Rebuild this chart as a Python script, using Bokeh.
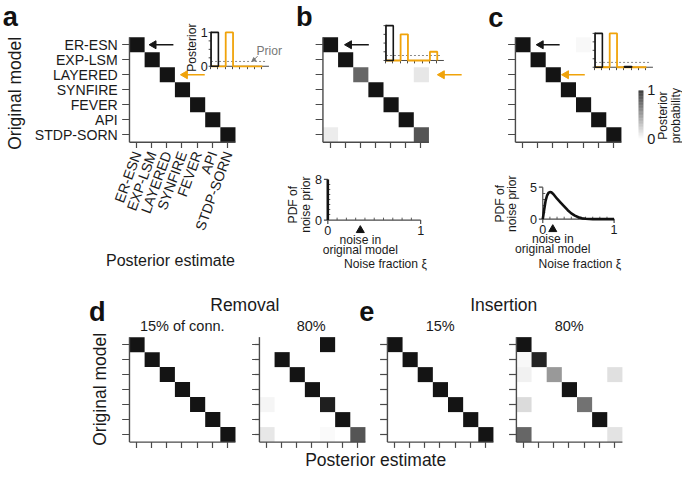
import numpy as np
from bokeh.plotting import figure
from bokeh.models import Range1d, ColumnDataSource
from bokeh.transform import linear_cmap
from bokeh.core.properties import value
from bokeh.embed import file_html
from bokeh.resources import INLINE

# ---------------- data ----------------
models = ["ER-ESN", "EXP-LSM", "LAYERED", "SYNFIRE", "FEVER", "API", "STDP-SORN"]

identity = [[1 if r == c else 0 for c in range(7)] for r in range(7)]
heat_a = identity
heat_b = [
    [1, 0, 0, 0, 0, 0, 0],
    [0, 1, 0, 0, 0, 0, 0],
    [0, 0, 0.65, 0, 0, 0, 0.1],
    [0, 0, 0, 1, 0, 0, 0],
    [0, 0, 0, 0, 1, 0, 0],
    [0, 0, 0, 0, 0, 1, 0],
    [0.08, 0, 0, 0, 0, 0, 0.72]]
heat_c = [
    [1, 0, 0, 0, 0.03, 0, 0],
    [0, 1, 0, 0, 0, 0, 0],
    [0, 0, 1, 0, 0, 0, 0],
    [0, 0, 0, 1, 0, 0, 0],
    [0, 0, 0, 0, 1, 0, 0],
    [0, 0, 0, 0, 0, 1, 0],
    [0, 0, 0, 0, 0, 0, 1]]
heat_d15 = identity
heat_d80 = [
    [0, 0, 0, 0, 1, 0, 0],
    [0, 1, 0, 0, 0, 0, 0],
    [0, 0, 1, 0, 0, 0, 0],
    [0, 0, 0, 1, 0, 0, 0],
    [0.04, 0, 0, 0, 0.95, 0, 0],
    [0, 0, 0, 0, 0, 1, 0],
    [0.1, 0, 0, 0, 0.02, 0, 0.72]]
heat_e15 = identity
heat_e80 = [
    [1, 0, 0, 0, 0, 0, 0],
    [0.03, 0.93, 0, 0, 0, 0, 0],
    [0.06, 0, 0.43, 0, 0, 0, 0.13],
    [0, 0, 0, 1, 0, 0, 0],
    [0.15, 0, 0, 0, 0.6, 0, 0],
    [0, 0, 0, 0, 0, 1, 0],
    [0.65, 0, 0, 0, 0, 0, 0.12]]

# inset posteriors: row ER-ESN (black) and row LAYERED (orange)
inset_a_er = [1, 0, 0, 0, 0, 0, 0]
inset_a_lay = [0, 0, 1, 0, 0, 0, 0]
inset_b_er = [1, 0, 0, 0, 0, 0, 0]
inset_b_lay = [0, 0, 0.75, 0, 0, 0, 0.25]
inset_c_er = [1, 0, 0, 0, 0.02, 0, 0]
inset_c_lay = [0, 0, 1, 0, 0, 0, 0]
prior = 1 / 7

# noise prior PDFs
noise_b_xi = [0, 0]
noise_b_pdf = [0, 8]
noise_c_xi = [0, 0.02, 0.04, 0.06, 0.08, 0.1, 0.12, 0.15, 0.2, 0.25, 0.3, 0.35,
              0.4, 0.45, 0.5, 0.55, 0.6, 0.65, 0.7, 0.8, 0.9, 1.0]
noise_c_pdf = [0, 1.5, 2.9, 3.7, 4.1, 4.25, 4.2, 3.9, 3.2, 2.6, 2.0, 1.4,
               0.9, 0.55, 0.3, 0.12, 0.05, 0.01, 0, 0, 0, 0]
orig_noise_b = 0.35
orig_noise_c = 0.14

# ---------------- styling ----------------
FONT = value("Liberation Sans")
FS = 0.97
AX = "#4a4a4a"
ORANGE = "#f0a30a"
DARK = "#161616"
GRAY = ["#%02x%02x%02x" % (g, g, g) for g in np.linspace(255, 20, 256).astype(int)]
CELL = 15.5

p = figure(width=682, height=474, x_range=Range1d(0, 698), y_range=Range1d(490, 0),
           x_axis_type=None, y_axis_type=None, output_backend="svg",
           toolbar_location=None, min_border=0, outline_line_color=None)
p.background_fill_color = "white"
p.border_fill_color = "white"


def txt(target, x, y, s, size, align="center", baseline="middle", angle=0.0,
        color="#1a1a1a", bold=False):
    target.text(x=x, y=y, text=s, text_font=FONT,
                text_font_size="%.1fpx" % (size * FS), text_align=align,
                text_baseline=baseline, angle=angle, text_color=color,
                text_font_style="bold" if bold else "normal")


def subplot(xs, ys, xt, yt):
    return p.subplot(x_source=Range1d(*xs), y_source=Range1d(*ys),
                     x_target=Range1d(*xt), y_target=Range1d(*yt))


def heatmap(x0, y0, mat, labels=False):
    n = len(models)
    s = subplot((-0.5, n - 0.5), (-0.5, n - 0.5), (x0, x0 + CELL * n), (y0, y0 + CELL * n))
    m = np.array(mat, float)
    r, c = np.nonzero(m)
    src = ColumnDataSource(dict(l=c - 0.5, rr=c + 0.5, t=r - 0.5, b=r + 0.5, v=m[r, c]))
    s.quad(left="l", right="rr", top="t", bottom="b", source=src,
           fill_color=linear_cmap("v", GRAY, 0, 1), line_color=None)
    idx = np.arange(n)
    tl = 7.5 / CELL
    s.segment(x0=[-0.5, -0.5], y0=[-0.5, n - 0.5], x1=[-0.5, n - 0.5], y1=[n - 0.5, n - 0.5],
              line_color=AX, line_width=1.4)
    s.segment(x0=-0.5, y0=idx, x1=-0.5 - tl, y1=idx, line_color=AX, line_width=1.2)
    s.segment(x0=idx, y0=n - 0.5, x1=idx, y1=n - 0.5 + 6 / CELL, line_color=AX, line_width=1.2)
    if labels:
        txt(s, [-0.5 - 12 / CELL] * n, list(idx), models, 14.5, align="right")
        txt(s, list(idx), [n - 0.5 + 10 / CELL] * n, models, 14.5, align="right",
            angle=np.deg2rad(70))
    return s


def hm_arrow(s, row, head, tail, color):
    s.segment(x0=[head + 0.25], y0=[row], x1=[tail], y1=[row], line_color=color, line_width=1.6)
    s.scatter(x=[head + 0.25], y=[row], marker="triangle", size=8, angle=np.pi / 2,
              fill_color=color, line_color=color)


def step_xy(vals):
    xs, ys = [0], [0]
    for i, v in enumerate(vals):
        xs += [i, i + 1]
        ys += [v, v]
    xs.append(len(vals))
    ys.append(0)
    return xs, ys


def inset(x0, ybase, ytop, er, lay, labels=False):
    s = subplot((0, 8), (0, 1), (x0, x0 + 60), (ybase, ytop))
    kx = 7.5
    ky = ybase - ytop
    s.segment(x0=[0, 0], y0=[0, 0], x1=[0, 7.9], y1=[1.03, 0], line_color=AX, line_width=1)
    xt = np.arange(8)
    s.segment(x0=xt, y0=0, x1=xt, y1=-3 / ky, line_color=AX, line_width=1)
    yt = [0, 0.25, 0.5, 0.75, 1]
    s.segment(x0=0, y0=yt, x1=-2.5 / kx, y1=yt, line_color=AX, line_width=1)
    s.line(x=[0, 7.6], y=[prior, prior], line_color="#8a8a8a", line_dash="2 2", line_width=1)
    sx, sy = step_xy(lay)
    s.line(x=sx, y=sy, line_color=ORANGE, line_width=1.8)
    v = np.array(er, float)
    k = np.nonzero(v)[0]
    s.vbar(x=k + 0.5, top=v[k], bottom=0, width=1, fill_color=None, line_color=DARK,
           line_width=1.6)
    if labels:
        txt(s, [-3.5 / kx, -3.5 / kx], [0, 1], ["0", "1"], 13, align="right")
        txt(s, [-19 / kx], [0.55], ["Posterior"], 12.5, angle=np.pi / 2)
        txt(s, [6.2], [0.45], ["Prior"], 12.5, align="left", color="#777777")
        s.segment(x0=[6.35], y0=[0.3], x1=[5.9], y1=[0.2], line_color="#777777", line_width=1)
        s.scatter(x=[5.85], y=[0.19], marker="triangle", size=4, angle=2.2,
                  fill_color="#777777", line_color="#777777")
    return s


def pdf_panel(xt, yt, ytop, cx, cy, toplab, arrow_xi):
    s = subplot((0, 1), (0, ytop), xt, yt)
    kx = xt[1] - xt[0]
    ky = (yt[0] - yt[1]) / ytop
    s.segment(x0=[0, 0], y0=[0, 0], x1=[1, 0], y1=[0, ytop], line_color=AX, line_width=1.2)
    xm = np.arange(1, 10) / 10
    s.segment(x0=xm, y0=0, x1=xm, y1=2.5 / ky, line_color=AX, line_width=0.9)
    s.segment(x0=[0, 1], y0=[0, 0], x1=[0, 1], y1=[-4 / ky] * 2, line_color=AX, line_width=1.2)
    s.segment(x0=0, y0=[0, ytop], x1=-4 / kx, y1=[0, ytop], line_color=AX, line_width=1.2)
    ym = np.arange(1, ytop)
    s.segment(x0=0, y0=ym, x1=2.5 / kx, y1=ym, line_color=AX, line_width=0.9)
    s.line(x=cx, y=cy, line_color="#111111", line_width=2.6)
    txt(s, [-6 / kx] * 2, [0, ytop], ["0", toplab], 13, align="right")
    txt(s, [0, 1], [-11 / ky] * 2, ["0", "1"], 13)
    s.scatter(x=[arrow_xi], y=[-10.5 / ky], marker="triangle", size=8,
              fill_color="#111111", line_color="#111111")
    txt(s, [arrow_xi] * 2, [-20.5 / ky, -31 / ky], ["noise in", "original model"], 12.5)
    return s


# ---------------- panel a ----------------
sa = heatmap(132, 38, heat_a, labels=True)
hm_arrow(sa, 0, 0.85, 2.4, DARK)
hm_arrow(sa, 2, 2.92, 4.47, ORANGE)
inset(215.5, 68, 33, inset_a_er, inset_a_lay, labels=True)
txt(p, [10], [17], ["a"], 28, bold=True, color="#111111")
txt(p, [15], [96], ["Original model"], 18, angle=np.pi / 2)
txt(p, [174], [269], ["Posterior estimate"], 16.5)

# ---------------- panel b ----------------
sb = heatmap(330, 38, heat_b)
hm_arrow(sb, 0, 0.98, 2.53, DARK)
hm_arrow(sb, 2, 7.11, 8.66, ORANGE)
inset(394.5, 62, 26, inset_b_er, inset_b_lay)
txt(p, [311], [17], ["b"], 28, bold=True, color="#111111")
pdf_panel((335, 430), (227, 185), 8, noise_b_xi, noise_b_pdf, "8", orig_noise_b)
txt(p, [299, 313], [211, 211], ["PDF of", "noise prior"], 12.5, angle=np.pi / 2)
txt(p, [394], [272], ["Noise fraction \u03be"], 12.5)

# ---------------- panel c ----------------
sc = heatmap(527, 38, heat_c)
hm_arrow(sc, 0, 0.93, 2.42, DARK)
hm_arrow(sc, 2, 2.6, 4.08, ORANGE)
inset(608.5, 69, 34, inset_c_er, inset_c_lay)
txt(p, [507], [18], ["c"], 28, bold=True, color="#111111")
pdf_panel((555, 628), (226, 193), 5, noise_c_xi, noise_c_pdf, "5", orig_noise_c)
txt(p, [511, 524], [210, 210], ["PDF of", "noise prior"], 12.5, angle=np.pi / 2)
txt(p, [593], [272], ["Noise fraction \u03be"], 12.5)

# colour bar
cb = subplot((0, 1), (0, 1), (653, 658), (143, 93))
lv = np.linspace(0, 1, 65)
cbs = ColumnDataSource(dict(b=lv[:-1], t=lv[1:], v=(lv[:-1] + lv[1:]) / 2))
cb.quad(left=0, right=1, bottom="b", top="t", source=cbs,
        fill_color=linear_cmap("v", GRAY, 0, 1), line_color=None)
txt(cb, [1.8, 1.8], [0, 1], ["0", "1"], 15, align="left")
txt(p, [678, 691], [119, 119], ["Posterior", "probability"], 12.5, angle=np.pi / 2)

# ---------------- panels d, e ----------------
heatmap(132, 348, heat_d15)
heatmap(265, 348, heat_d80)
heatmap(396, 348, heat_e15)
heatmap(528, 348, heat_e80)
txt(p, [99, 375], [322, 322], ["d", "e"], 28, bold=True, color="#111111")
txt(p, [250, 515], [315, 315], ["Removal", "Insertion"], 18)
txt(p, [186, 318, 450, 582], [336, 336, 336, 336], ["15% of conn.", "80%", "15%", "80%"], 15)
txt(p, [102], [402], ["Original model"], 18, angle=np.pi / 2)
txt(p, [384], [475], ["Posterior estimate"], 18)

open("out.html", "w").write(file_html(p, INLINE))
